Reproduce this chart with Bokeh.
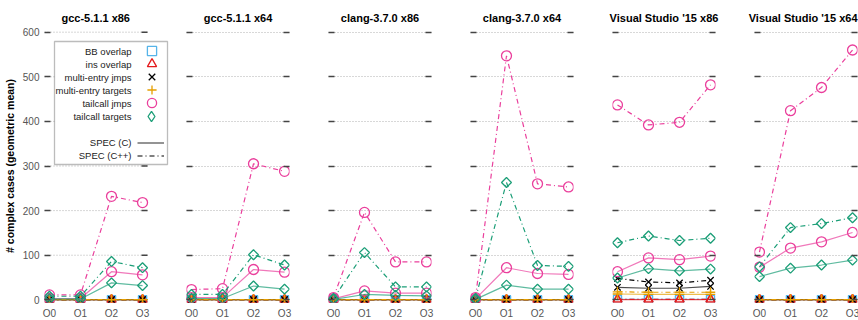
import math
from bokeh.plotting import figure
from bokeh.models import (Range1d, FixedTicker, LinearAxis, Legend, LegendItem,
                          Label, BoxAnnotation)
from bokeh.layouts import row
from bokeh.embed import file_html
from bokeh.resources import INLINE

# ---------------- data ----------------
compilers = ["gcc-5.1.1 x86", "gcc-5.1.1 x64", "clang-3.7.0 x86",
             "clang-3.7.0 x64", "Visual Studio '15 x86", "Visual Studio '15 x64"]
levels = ["O0", "O1", "O2", "O3"]
y_ticks = [0, 100, 200, 300, 400, 500, 600]
y_label = "# complex cases (geometric mean)"
spec_labels = ["SPEC (C)", "SPEC (C++)"]

# one row per compiler, one value per optimisation level
bb_overlap_c = [[0.4, 0.4, 0.4, 0.4], [0.4, 0.4, 0.4, 0.4], [0.3, 0.3, 0.3, 0.3],
                [0.3, 0.3, 0.3, 0.3], [0.8, 0.8, 0.8, 0.8], [0.5, 0.5, 0.5, 0.5]]
bb_overlap_cpp = [[0.5, 0.5, 0.5, 0.5], [0.5, 0.5, 0.5, 0.5], [0.4, 0.4, 0.4, 0.4],
                  [0.4, 0.4, 0.4, 0.4], [1.0, 1.0, 1.0, 1.0], [0.6, 0.6, 0.6, 0.6]]
ins_overlap_c = [[0.2, 0.2, 0.2, 0.2], [0.2, 0.2, 0.2, 0.2], [0.2, 0.2, 0.2, 0.2],
                 [0.2, 0.2, 0.2, 0.2], [0.6, 0.6, 0.6, 0.6], [0.3, 0.3, 0.3, 0.3]]
ins_overlap_cpp = [[0.3, 0.3, 0.3, 0.3], [0.3, 0.3, 0.3, 0.3], [0.3, 0.3, 0.3, 0.3],
                   [0.3, 0.3, 0.3, 0.3], [0.8, 0.8, 0.8, 0.8], [0.4, 0.4, 0.4, 0.4]]
multi_jmps_c = [[0.3, 0.3, 0.5, 0.5], [0.3, 0.3, 0.5, 0.5], [0.2, 0.5, 0.5, 0.5],
                [0.2, 0.5, 0.5, 0.5], [28, 26, 26, 30], [0.5, 0.5, 0.5, 0.5]]
multi_jmps_cpp = [[0.4, 0.4, 0.6, 0.6], [0.4, 0.4, 0.6, 0.6], [0.3, 0.6, 0.6, 0.6],
                  [0.3, 0.6, 0.6, 0.6], [48, 40, 38, 44], [0.6, 0.6, 0.6, 0.6]]
multi_targets_c = [[0.3, 0.3, 0.5, 0.5], [0.3, 0.3, 0.5, 0.5], [0.2, 0.5, 0.5, 0.5],
                   [0.2, 0.5, 0.5, 0.5], [13, 12, 12, 12], [0.5, 0.5, 0.5, 0.5]]
multi_targets_cpp = [[0.4, 0.4, 0.6, 0.6], [0.4, 0.4, 0.6, 0.6], [0.3, 0.6, 0.6, 0.6],
                     [0.3, 0.6, 0.6, 0.6], [18, 17, 17, 17], [0.6, 0.6, 0.6, 0.6]]
tail_jmps_c = [[3, 3, 63, 56], [5, 5, 68, 62], [2, 20, 15, 15],
               [2, 72, 59, 57], [63, 94, 90, 98], [73, 116, 130, 151]]
tail_jmps_cpp = [[11, 11, 232, 218], [23, 25, 305, 288], [5, 196, 85, 85],
                 [5, 547, 260, 253], [437, 392, 398, 482], [107, 424, 476, 560]]
tail_targets_c = [[2, 2, 38, 32], [3, 3, 31, 24], [1, 12, 10, 9],
                  [1, 33, 24, 24], [49, 70, 65, 69], [52, 71, 78, 89]]
tail_targets_cpp = [[8, 8, 86, 72], [12, 12, 101, 78], [3, 106, 29, 29],
                    [3, 263, 77, 75], [128, 143, 133, 138], [74, 162, 171, 184]]

# (label, marker, rotation, colour, size, C values, C++ values)
series = [
    ("BB overlap", "square", 0, "#56B4E9", 8, bb_overlap_c, bb_overlap_cpp),
    ("ins overlap", "triangle", 0, "#E41A1C", 9, ins_overlap_c, ins_overlap_cpp),
    ("multi-entry jmps", "x", 0, "#000000", 9, multi_jmps_c, multi_jmps_cpp),
    ("multi-entry targets", "cross", 0, "#E69F00", 10, multi_targets_c, multi_targets_cpp),
    ("tailcall jmps", "circle", 0, "#EA3F9C", 10, tail_jmps_c, tail_jmps_cpp),
    ("tailcall targets", "square", math.pi / 4, "#1B9E77", 7, tail_targets_c, tail_targets_cpp),
]

# ---------------- layout constants ----------------
FONT = "Liberation Sans"
DASHDOT = "5 3 1 3"
TICK_COLOR = "#444444"
LABEL_COLOR = "#555555"
GRID_COLOR = "#b0b0b0"
X_LO, X_HI = -0.16, 3.16
PANEL_W = 103
PPU = PANEL_W / (X_HI - X_LO)          # pixels per category step
FIRST_EXTRA = 25                        # room for the legend that overhangs panel 1
FRAME_TOP, FRAME_H = 29, 273


def style_yaxis(ax, show_labels):
    ax.ticker = FixedTicker(ticks=y_ticks)
    ax.axis_line_color = None
    ax.major_tick_in = 6
    ax.major_tick_out = 0
    ax.major_tick_line_color = TICK_COLOR
    ax.major_tick_line_width = 1.5
    ax.minor_tick_line_color = None
    if show_labels:
        ax.major_label_text_font = FONT
        ax.major_label_text_font_size = "10px"
        ax.major_label_text_color = LABEL_COLOR
        ax.major_label_standoff = 5
    else:
        ax.major_label_overrides = {t: "" for t in y_ticks}
        ax.major_label_standoff = 0


figs = []
first_renderers = {}
x = list(range(len(levels)))
for k, name in enumerate(compilers):
    first = k == 0
    last = k == len(compilers) - 1
    fw = PANEL_W + (FIRST_EXTRA if first else 0)
    x_end = X_LO + fw / PPU
    p = figure(frame_width=fw, frame_height=FRAME_H,
               x_range=Range1d(X_LO, x_end), y_range=Range1d(-6, 606),
               min_border_left=42 if first else 14,
               min_border_right=0 if first else (3 if last else 25),
               min_border_top=FRAME_TOP, min_border_bottom=18,
               output_backend="svg", toolbar_location=None, title=name)
    p.outline_line_color = None
    p.title.text_font = FONT
    p.title.text_font_size = "11px"
    p.title.text_font_style = "bold"
    p.title.text_color = "#000000"
    p.title.standoff = 11
    if first:
        p.title.align = "left"
        p.title.offset = 17
    elif last:
        p.title.align = "right"
    else:
        p.title.align = "center"

    p.xgrid.visible = False
    if first:
        # grid and right-hand tick marks stop at the panel edge (legend overhangs)
        p.ygrid.visible = False
        p.segment(x0=[X_LO] * len(y_ticks), x1=[X_HI] * len(y_ticks),
                  y0=y_ticks, y1=y_ticks, line_color=GRID_COLOR,
                  line_dash="1 2", line_width=1)
        p.scatter([X_HI - 3 / PPU] * len(y_ticks), y_ticks, marker="dash",
                  size=6, line_color=TICK_COLOR, line_width=1.5)
    else:
        p.ygrid.ticker = FixedTicker(ticks=y_ticks)
        p.ygrid.grid_line_color = GRID_COLOR
        p.ygrid.grid_line_dash = "1 2"
        p.ygrid.grid_line_width = 1
        rax = LinearAxis()
        style_yaxis(rax, False)
        p.add_layout(rax, "right")

    style_yaxis(p.yaxis[0], first)
    if first:
        p.yaxis.axis_label = y_label
        p.yaxis.axis_label_text_font = FONT
        p.yaxis.axis_label_text_font_size = "10.5px"
        p.yaxis.axis_label_text_font_style = "bold"
        p.yaxis.axis_label_text_color = "#000000"
        p.yaxis.axis_label_standoff = 4

    p.xaxis.ticker = FixedTicker(ticks=x)
    p.xaxis.major_label_overrides = {i: lv for i, lv in enumerate(levels)}
    p.xaxis.axis_line_color = None
    p.xaxis.major_tick_line_color = None
    p.xaxis.major_tick_in = 0
    p.xaxis.major_tick_out = 0
    p.xaxis.minor_tick_line_color = None
    p.xaxis.major_label_text_font = FONT
    p.xaxis.major_label_text_font_size = "10px"
    p.xaxis.major_label_text_color = LABEL_COLOR
    p.xaxis.major_label_standoff = 5

    for (lab, marker, rot, color, size, c_vals, cpp_vals) in series:
        lc = p.line(x, c_vals[k], line_color=color, line_width=1.2, line_alpha=0.7)
        lcpp = p.line(x, cpp_vals[k], line_color=color, line_width=1.2,
                      line_dash=DASHDOT)
        for vals in (c_vals, cpp_vals):
            sr = p.scatter(x, vals[k], marker=marker, angle=rot, size=size,
                           line_color=color, line_width=1.3, fill_color=None)
        if first:
            if rot:
                # legend symbols are drawn unrotated: use a hidden diamond twin
                sr = p.scatter(x, cpp_vals[k], marker="diamond", size=size,
                               line_color=color, line_width=1.3,
                               fill_color=None, visible=False)
            first_renderers[lab] = (lc, lcpp, sr)
    figs.append(p)

# ---------------- legend (inside first panel, text left of symbol) ----------------
p0 = figs[0]
frame_bottom = FRAME_TOP + FRAME_H
p0.add_layout(BoxAnnotation(left=54, right=167, top=41, bottom=164,
                            left_units="canvas", right_units="canvas",
                            top_units="canvas", bottom_units="canvas",
                            fill_color="white", fill_alpha=1.0,
                            line_color="#222222", line_width=1.3))

row_y = [50.7, 63.6, 76.5, 89.5, 102.6, 115.8, 142.2, 155.2]
texts = [s[0] for s in series] + spec_labels
for ty, t in zip(row_y, texts):
    p0.add_layout(Label(x=131, y=ty, x_units="canvas", y_units="canvas",
                        text=t, text_align="right", text_baseline="middle",
                        text_font=FONT, text_font_size="9.5px",
                        text_color="#222222"))

for ty, s in zip(row_y[:6], series):
    sr = first_renderers[s[0]][2]
    mg = 23 if s[2] == 0 else 26      # glyph box sets the legend symbol size
    leg = Legend(items=[LegendItem(label=" ", renderers=[sr])],
                 location=(149 - mg / 2 - 42, frame_bottom - (ty + mg / 2)),
                 glyph_width=mg, glyph_height=mg, label_height=mg, label_width=0,
                 label_standoff=0, spacing=0, padding=0, margin=0,
                 border_line_color=None, background_fill_alpha=0,
                 label_text_font_size="8px")
    p0.add_layout(leg)

jm = first_renderers["multi-entry jmps"]
leg_l = Legend(items=[LegendItem(label=" ", renderers=[jm[0]]),
                      LegendItem(label=" ", renderers=[jm[1]])],
               location=(135 - 42, frame_bottom - (row_y[7] + 6.5)),
               glyph_width=27, glyph_height=13, label_height=13, label_width=0,
               label_standoff=0, spacing=0, padding=0, margin=0,
               border_line_color=None, background_fill_alpha=0,
               label_text_font_size="8px")
p0.add_layout(leg_l)

layout = row(*figs, spacing=0)
open("out.html", "w").write(file_html(layout, INLINE))
